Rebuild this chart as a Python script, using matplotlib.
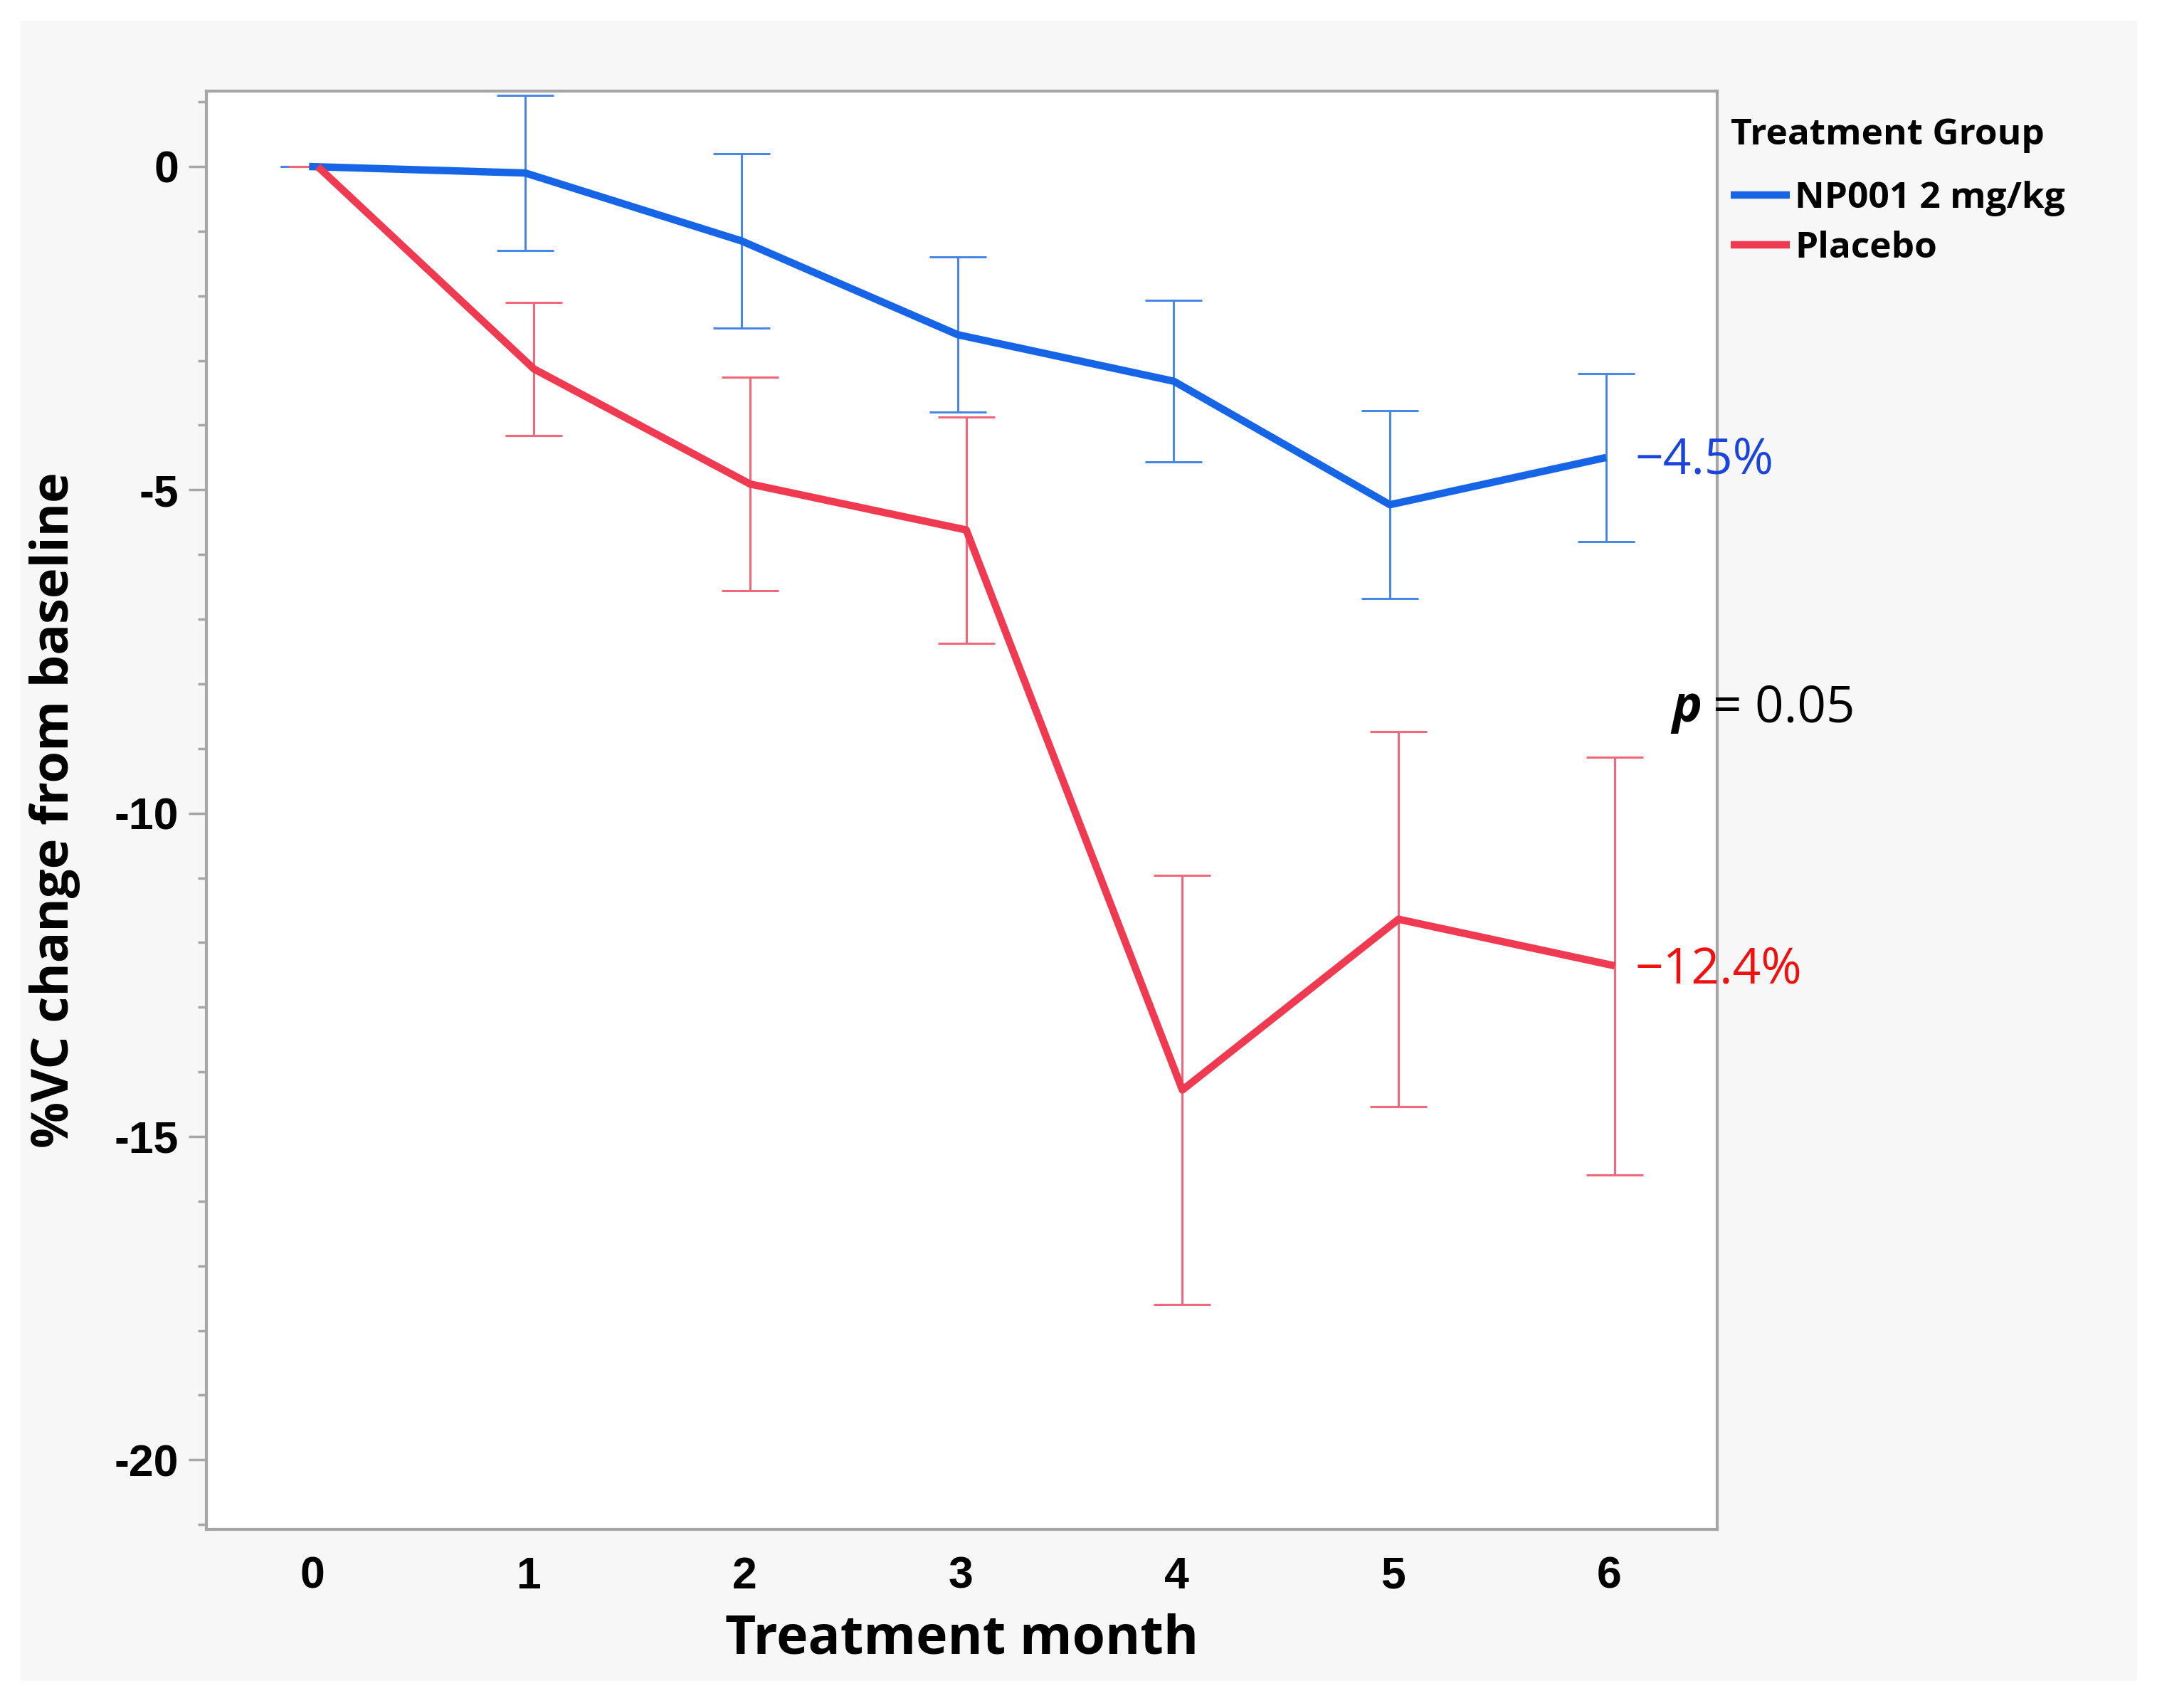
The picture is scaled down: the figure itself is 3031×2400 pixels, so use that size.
import numpy as np
import matplotlib
matplotlib.use("Agg")
import matplotlib.pyplot as plt
from matplotlib.patches import Rectangle
from matplotlib.ticker import MultipleLocator, FuncFormatter

# values
months = [0, 1, 2, 3, 4, 5, 6]
np001_mean = [0.0, -0.1, -1.15, -2.6, -3.32, -5.23, -4.5]
np001_err = [0.0, 1.2, 1.35, 1.2, 1.25, 1.45, 1.3]
placebo_mean = [0.0, -3.13, -4.91, -5.62, -14.28, -11.64, -12.36]
placebo_err = [0.0, 1.03, 1.65, 1.75, 3.32, 2.9, 3.23]
group_names = ["NP001 2 mg/kg", "Placebo"]

blue = "#1565e6"
red = "#f03a52"
blue_err = "#4a88e6"
red_err = "#f2687a"

fig = plt.figure(figsize=(30.31, 24.0), dpi=100)
fig.patches.append(Rectangle((0.0096, 0.016), 0.981, 0.972, transform=fig.transFigure,
                             facecolor="#f7f7f7", edgecolor="none", zorder=-10))
ax = fig.add_axes([0.0957, 0.1044, 0.7005, 0.8424])
ax.set_facecolor("white")

x = np.array(months, dtype=float)
# little horizontal offset between the groups, as in the original
for xs, m, e, c, ce, name in [(x - 0.015, np001_mean, np001_err, blue, blue_err, group_names[0]),
                              (x + 0.025, placebo_mean, placebo_err, red, red_err, group_names[1])]:
    ax.errorbar(xs, m, yerr=e, fmt="none", ecolor=ce, elinewidth=2.2, capsize=29, capthick=2.2, zorder=2)
    ax.plot(xs, m, color=c, lw=7.5, label=name, zorder=3, solid_capstyle="butt")

ax.set_xlim(-0.49, 6.5)
ax.set_ylim(-21.08, 1.17)
ax.yaxis.set_major_locator(MultipleLocator(5))
ax.yaxis.set_minor_locator(MultipleLocator(1))
ax.yaxis.set_major_formatter(FuncFormatter(lambda v, p: "%d" % v))
ax.set_xticks(months)

for s in ax.spines.values():
    s.set_color("#a6a6a6")
    s.set_linewidth(3)
ax.tick_params(axis="y", which="major", length=18, width=2.5, color="#a6a6a6", pad=10)
ax.tick_params(axis="y", which="minor", length=9, width=2.5, color="#a6a6a6")
ax.tick_params(axis="x", length=0, pad=26)
for lab in ax.get_xticklabels() + ax.get_yticklabels():
    lab.set_fontfamily("Liberation Sans")
    lab.set_fontweight("bold")
    lab.set_fontsize(45)

ax.set_xlabel("Treatment month", fontsize=54, fontweight="bold", family="Open Sans", labelpad=16)
ax.set_ylabel("%VC change from baseline", fontsize=52, fontweight="bold", family="Open Sans", labelpad=34)

ax.text(6.12, -4.55, "\u22124.5%", color="#1a44dc", fontsize=50, family="Open Sans",
        va="center", ha="left", clip_on=False)
ax.text(6.12, -12.43, "\u221212.4%", color="#f01010", fontsize=50, family="Open Sans",
        va="center", ha="left", clip_on=False)
pt = ax.text(6.29, -8.38, "p", fontsize=51, family="Open Sans", fontweight="bold", style="italic",
             va="center", ha="left", clip_on=False)
ax.annotate("= 0.05", xy=(1, 0), xycoords=pt, xytext=(11, 0), textcoords="offset points",
            fontsize=51, family="Open Sans", va="bottom", ha="left", annotation_clip=False)

# legend title drawn separately so the gap to the entries matches the original
ax.text(1.009, 0.969, "Treatment Group", transform=ax.transAxes, va="center", ha="left",
        fontsize=37, fontweight="bold", family="Open Sans")
leg = ax.legend(loc="center left", bbox_to_anchor=(1.009, 0.9078), frameon=False,
                handlelength=1.6, handletextpad=0.15, labelspacing=0.40,
                borderpad=0, borderaxespad=0,
                prop={"family": "Open Sans", "weight": "bold", "size": 37})
for h in leg.legend_handles:
    h.set_linewidth(7.5)

fig.savefig("out.png", dpi=100)
